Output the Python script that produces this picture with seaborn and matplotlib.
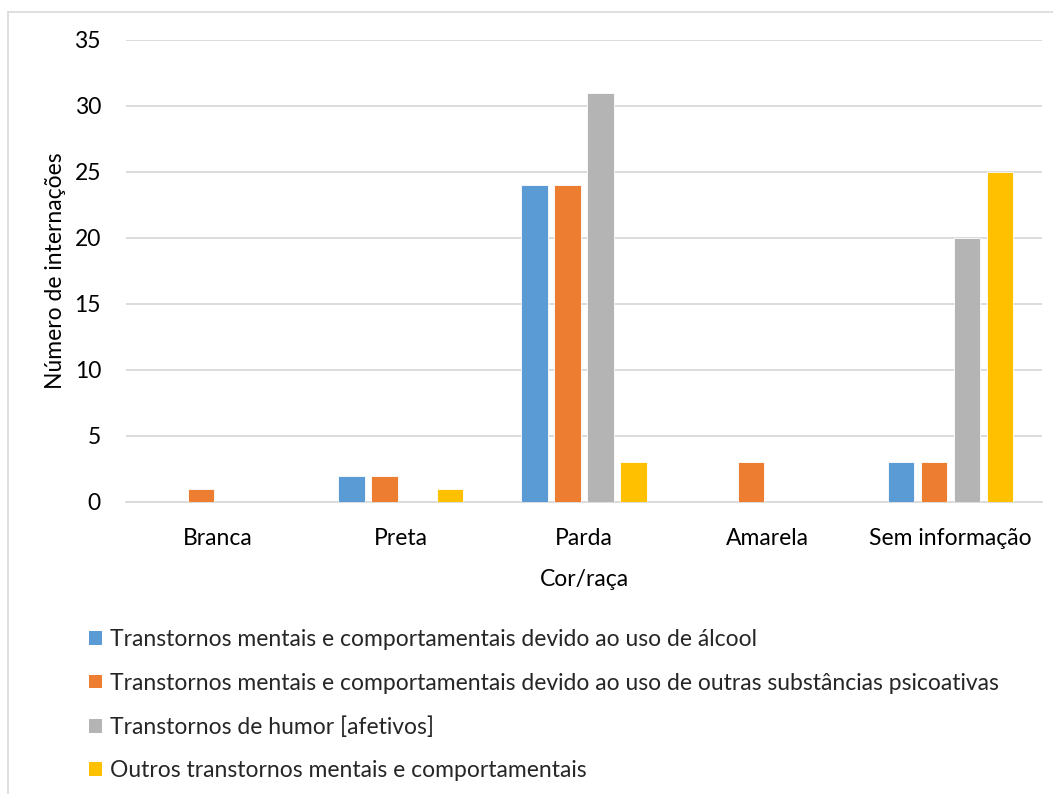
import matplotlib
matplotlib.use("Agg")
import matplotlib.pyplot as plt
from matplotlib.patches import Patch
from matplotlib.lines import Line2D
import seaborn as sns
import pandas as pd

categories = ["Branca", "Preta", "Parda", "Amarela", "Sem informação"]
series_names = [
    "Transtornos mentais e comportamentais devido ao uso de álcool",
    "Transtornos mentais e comportamentais devido ao uso de outras substâncias psicoativas",
    "Transtornos de humor [afetivos]",
    "Outros transtornos mentais e comportamentais",
]
alcool = [0, 2, 24, 0, 3]
outras = [1, 2, 24, 3, 3]
humor = [0, 0, 31, 0, 20]
outros = [0, 1, 3, 0, 25]
colors = ["#5B9BD5", "#ED7D31", "#B4B4B4", "#FFC000"]
yticks = [0, 5, 10, 15, 20, 25, 30, 35]

rows = []
for name, vals in zip(series_names, [alcool, outras, humor, outros]):
    for c, v in zip(categories, vals):
        rows.append({"Cor/raça": c, "Série": name, "Valor": v})
df = pd.DataFrame(rows)

sns.set_theme(style="white")
plt.rcParams["font.family"] = ["Lato", "DejaVu Sans"]
FS = 16.5

fig = plt.figure(figsize=(10.53, 7.94), dpi=100)
ax = fig.add_axes([126 / 1053, 1 - 502 / 794, (1042 - 126) / 1053, (502 - 40) / 794])

sns.barplot(data=df, x="Cor/raça", y="Valor", hue="Série", hue_order=series_names,
            order=categories, palette=colors, saturation=1, width=0.72, gap=0.2,
            edgecolor="white", linewidth=0.6, ax=ax, legend=False, zorder=3)

ax.set_ylim(0, 35)
ax.set_yticks(yticks)
ax.yaxis.grid(True, color="#D9D9D9", linewidth=1.3, zorder=0)
ax.set_axisbelow(True)
for s in ["top", "right", "left"]:
    ax.spines[s].set_visible(False)
ax.spines["bottom"].set_color("#D9D9D9")
ax.spines["bottom"].set_linewidth(1.3)
ax.tick_params(axis="both", length=0, labelsize=FS, colors="black")
ax.tick_params(axis="x", pad=19)
ax.tick_params(axis="y", pad=18)
ax.set_xlabel("Cor/raça", fontsize=FS, labelpad=14, color="black")
ax.set_ylabel("Número de internações", fontsize=FS, labelpad=6, color="black")

handles = [Patch(facecolor=c, edgecolor="none") for c in colors]
fig.legend(handles, series_names, loc="upper left", bbox_to_anchor=(80 / 1053, 1 - 620 / 794),
           frameon=False, fontsize=FS, handlelength=0.55, handleheight=0.55,
           handletextpad=0.35, labelspacing=0.98, borderaxespad=0)

fig.add_artist(Line2D([8 / 1053, 8 / 1053], [0, 1 - 12 / 794], transform=fig.transFigure,
                      color="#D9D9D9", linewidth=1.2))
fig.add_artist(Line2D([8 / 1053, 1], [1 - 12 / 794, 1 - 12 / 794], transform=fig.transFigure,
                      color="#D9D9D9", linewidth=1.2))

fig.savefig("out.png", dpi=100)
